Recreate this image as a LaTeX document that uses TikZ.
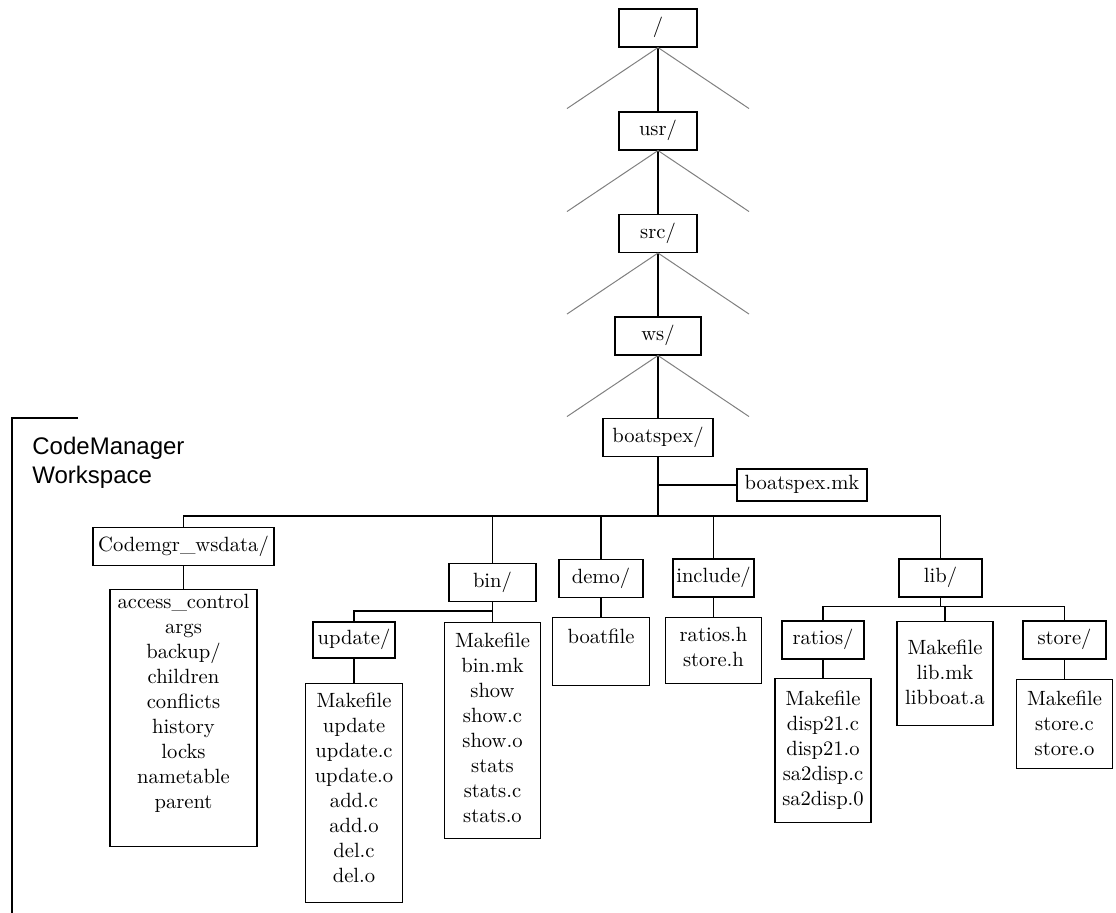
\documentclass[tikz,border=0pt]{standalone}
\usepackage{fontspec}
\newfontfamily\helvfont{Liberation Sans}
\usetikzlibrary{calc}

\tikzset{
  dirbox/.style={draw, line width=0.55pt, minimum height=19pt, text height=7pt, text depth=2pt, inner sep=0pt, font=\fontsize{10.3}{12.5}\selectfont},
  listbox/.style={draw, line width=0.55pt, inner sep=0pt, anchor=north},
  listtext/.style={anchor=north, yshift=-#1, align=center, inner sep=0pt, font=\fontsize{10.3}{12.5}\selectfont},
  fan/.style={black!50, line width=0.5pt},
  tie/.style={line width=0.55pt}
}

\begin{document}
\begin{tikzpicture}[x=0.5pt,y=-0.5pt]
	\useasboundingbox (0,0) rectangle (1116,913);
	% path down to the workspace
	\node[dirbox, minimum width=39pt] (root) at (658,28) {/};
	\node[dirbox, minimum width=39pt] (usr) at (658,131) {usr/};
	\node[dirbox, minimum width=39pt] (src) at (658,233.5) {src/};
	\node[dirbox, minimum width=43pt] (ws) at (658,336) {ws/};
	\node[dirbox, minimum width=55pt] (boatspex) at (658,437.5) {boatspex/};
	\node[dirbox, minimum width=65pt, minimum height=16pt] (boatspexmk) at (802,485) {boatspex.mk};
	\draw[tie] (root) -- (usr);
	\draw[tie] (usr) -- (src);
	\draw[tie] (src) -- (ws);
	\draw[tie] (ws) -- (boatspex);
	\foreach \n in {root,usr,src,ws} {
		\coordinate (\n-l) at ($(\n.south)+(-91,61)$);
		\coordinate (\n-r) at ($(\n.south)+(91,61)$);
		\draw[fan] (\n.south) -- (\n-l);
		\draw[fan] (\n.south) -- (\n-r);
	}
	% workspace directories
	\node[dirbox, minimum width=90.5pt] (codemgr) at (183.5,546.5) {Codemgr\_wsdata/};
	\node[dirbox, minimum width=43.5pt] (bin) at (492.5,582.5) {bin/};
	\node[dirbox, minimum width=42pt] (demo) at (601,578.5) {demo/};
	\node[dirbox, minimum width=40.5pt] (include) at (713.5,578) {include/};
	\node[dirbox, minimum width=41.5pt] (lib) at (940.5,578) {lib/};
	\coordinate (bus) at ($(boatspex.south)+(0,59)$);
	\draw[tie] (boatspex) -- (bus);
	\draw[tie] (boatspex.south |- boatspexmk.west) -- (boatspexmk.west);
	\foreach \c in {codemgr,bin,demo,include,lib}
		\draw[tie] (bus) -| (\c.north);
	\node[dirbox, minimum width=41pt, minimum height=18pt] (update) at (354,640) {update/};
	\node[dirbox, minimum width=41pt] (ratios) at (823,640) {ratios/};
	\node[dirbox, minimum width=41.5pt] (store) at (1064.5,640) {store/};
	% file lists
	\node[listbox, minimum width=73.5pt, minimum height=128.5pt,
		label={[listtext=2.5pt]north:access\_control\\args\\backup/\\children\\conflicts\\history\\locks\\nametable\\parent}] (codelist) at (183.5,589) {};
	\node[listbox, minimum width=48.5pt, minimum height=34pt,
		label={[listtext=6pt]north:boatfile}] (demolist) at (601,617) {};
	\node[listbox, minimum width=48pt, minimum height=33pt,
		label={[listtext=5pt]north:ratios.h\\store.h}] (inclist) at (713.5,617) {};
	\node[listbox, minimum width=48pt, minimum height=108pt,
		label={[listtext=5.5pt]north:Makefile\\bin.mk\\show\\show.c\\show.o\\stats\\stats.c\\stats.o}] (binlist) at (492.5,622) {};
	\node[listbox, minimum width=48.5pt, minimum height=109.5pt,
		label={[listtext=5pt]north:Makefile\\update\\update.c\\update.o\\add.c\\add.o\\del.c\\del.o}] (updlist) at (354,683) {};
	\node[listbox, minimum width=48pt, minimum height=72pt,
		label={[listtext=6.5pt]north:Makefile\\disp21.c\\disp21.o\\sa2disp.c\\sa2disp.0}] (ratlist) at (823,678) {};
	\node[listbox, minimum width=48pt, minimum height=52pt,
		label={[listtext=9.5pt]north:Makefile\\lib.mk\\libboat.a}] (liblist) at (945,621) {};
	\node[listbox, minimum width=48pt, minimum height=44.5pt,
		label={[listtext=6pt]north:Makefile\\store.c\\store.o}] (stolist) at (1064.5,679) {};
	\draw[tie] (codemgr) -- (codelist);
	\draw[tie] (demo) -- (demolist);
	\draw[tie] (include) -- (inclist);
	\draw[tie] (bin) -- (binlist);
	\coordinate (binbus) at ($(bin.south)+(0,9)$);
	\draw[tie] (binbus) -| (update.north);
	\draw[tie] (update) -- (updlist);
	\coordinate (libbus) at ($(lib.south)+(0,9)$);
	\draw[tie] (lib.south) -- (libbus);
	\foreach \c in {ratios,liblist,store}
		\draw[tie] (libbus) -| (\c.north);
	\draw[tie] (ratios) -- (ratlist);
	\draw[tie] (store) -- (stolist);
	% workspace bracket
	\draw[line width=1pt] (78,418) -- (12,418) -- (12,913);
	\node[font=\helvfont\fontsize{12}{14.5}\selectfont, align=left, anchor=north west, inner sep=0pt] (wslabel) at (32,437) {CodeManager\\Workspace};
\end{tikzpicture}
\end{document}
